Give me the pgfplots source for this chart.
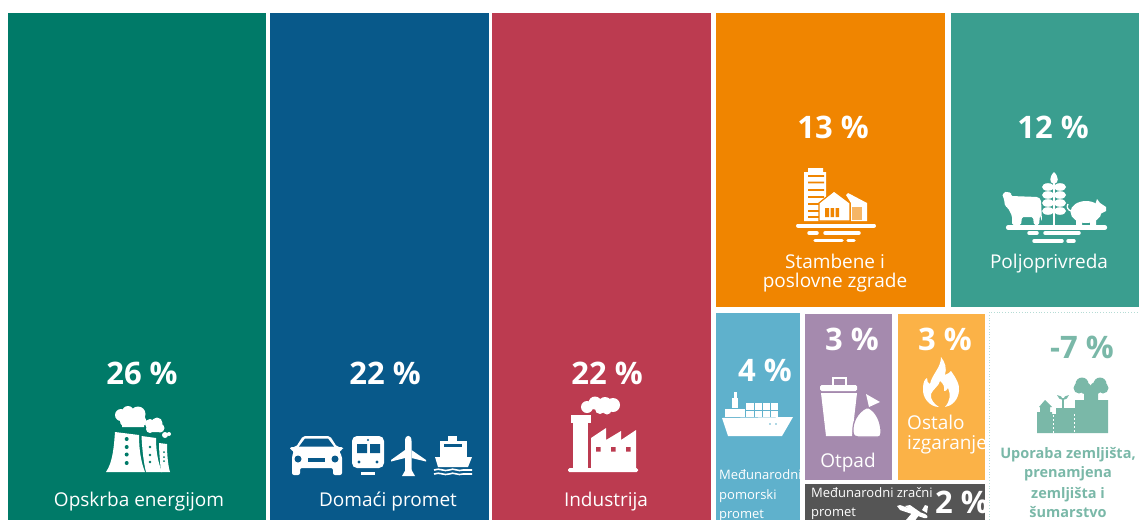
\documentclass[border=0pt]{standalone}
\usepackage{pgfplots}
\usepackage{fontspec}
\setmainfont{Open Sans}
\pgfplotsset{compat=1.18}
\definecolor{cgreen}{HTML}{007A68}
\definecolor{cblue}{HTML}{08598A}
\definecolor{cred}{HTML}{BC3B50}
\definecolor{corange}{HTML}{F08500}
\definecolor{cteal}{HTML}{3A9E8F}
\definecolor{clblue}{HTML}{5FB1CC}
\definecolor{cpurple}{HTML}{A58AAE}
\definecolor{cyellow}{HTML}{FBB247}
\definecolor{cgrey}{HTML}{555555}
\definecolor{cland}{HTML}{7AB8A8}
\definecolor{cdot}{HTML}{B5DCD5}
\newcommand\pct{\fontsize{31}{33}\selectfont\bfseries}
\newcommand\lab{\fontsize{19}{21}\selectfont}
\newcommand\sml{\fontsize{13}{15}\selectfont}
\newcommand\lnd{\fontsize{14.5}{16}\selectfont\bfseries}
\newcommand\dsh[4]{\draw[white,line width=#4pt,line cap=round] (#1,#3)--(#2,#3);}
\begin{document}
\begin{tikzpicture}
\useasboundingbox (0,0) rectangle (1139pt,520pt);
\begin{axis}[
  scale only axis, width=1139pt, height=520pt,
  xmin=0, xmax=1139, ymin=0, ymax=520, y dir=reverse,
  hide axis, no markers, clip=false,
]
% cells of the treemap (area follows the share)
\addplot[fill=cgreen,draw=none] coordinates {(8,13)(266,13)(266,520)(8,520)};
\addplot[fill=cblue,draw=none] coordinates {(270,13)(489,13)(489,520)(270,520)};
\addplot[fill=cred,draw=none] coordinates {(492,13)(711,13)(711,520)(492,520)};
\addplot[fill=corange,draw=none] coordinates {(716,13)(945,13)(945,307)(716,307)};
\addplot[fill=cteal,draw=none] coordinates {(951,13)(1139,13)(1139,307)(951,307)};
\addplot[fill=clblue,draw=none] coordinates {(716,313)(800,313)(800,520)(716,520)};
\addplot[fill=cpurple,draw=none] coordinates {(805,314)(892,314)(892,480)(805,480)};
\addplot[fill=cyellow,draw=none] coordinates {(898,314)(985,314)(985,480)(898,480)};
\addplot[fill=cgrey,draw=none] coordinates {(805,484)(985,484)(985,520)(805,520)};
\addplot[draw=cdot,dotted,line width=0.8pt] coordinates {(989,520)(989,312)(1139,312)};

% text
\begin{scope}[every node/.style={inner sep=0pt, anchor=base, text=white}]
\node[font=\pct] at (142,384) {26 \%};
\node[font=\lab] at (139,506) {Opskrba energijom};
\node[font=\pct] at (385,384) {22 \%};
\node[font=\lab] at (388,506) {Domaći promet};
\node[font=\pct] at (607,384) {22 \%};
\node[font=\lab] at (606,506) {Industrija};
\node[font=\pct] at (833,138) {13 \%};
\node[font=\lab] at (835,268) {Stambene i};
\node[font=\lab] at (835,287.5) {poslovne zgrade};
\node[font=\pct] at (1053,138) {12 \%};
\node[font=\lab] at (1049,268) {Poljoprivreda};
\node[font=\pct] at (765,381) {4 \%};
\node[font=\sml,anchor=base west] at (719,479) {Međunarodni};
\node[font=\sml,anchor=base west] at (719,499) {pomorski};
\node[font=\sml,anchor=base west] at (719,518) {promet};
\node[font=\pct] at (852,350) {3 \%};
\node[font=\lab] at (848,467) {Otpad};
\node[font=\pct] at (945,350) {3 \%};
\node[font=\lab,anchor=base west] at (907,429) {Ostalo};
\node[font=\lab,anchor=base west] at (907,449) {izgaranje};
\node[font=\pct,text=cland] at (1082,358) {-7 \%};
\node[font=\lnd,text=cland] at (1068,458) {Uporaba zemljišta,};
\node[font=\lnd,text=cland] at (1068,477) {prenamjena};
\node[font=\lnd,text=cland] at (1068,498) {zemljišta i};
\node[font=\lnd,text=cland] at (1068,517) {šumarstvo};
\node[font=\sml,anchor=base west] at (811,497) {Međunarodni zračni};
\node[font=\sml,anchor=base west] at (811,516) {promet};
\begin{scope}
\clip (805,484) rectangle (985,520);
\node[font=\pct,anchor=base west] at (935,513) {2 \%};
\end{scope}
\end{scope}

% icon: power plant
\fill[white] (121,415) circle[radius=6pt] (128,412) circle[radius=6pt] (138,414) circle[radius=7.5pt] (126,421) circle[radius=6pt] (141,421) circle[radius=5.5pt] (122,412) rectangle (144,427);
\fill[white] (150,424) circle[radius=5pt] (157,423) circle[radius=5.5pt] (150,429) circle[radius=4pt] (160,428) circle[radius=4.5pt] (149,424) rectangle (162,432);
\fill[white] (165,435) circle[radius=3pt] (169,434) circle[radius=2pt];
\fill[white] (106,472) .. controls (113,462) and (114,445) .. (115,432) -- (139,435) .. controls (139,450) and (141,462) .. (145,472) -- cycle;
\fill[white] (146,472) .. controls (143,460) and (142,445) .. (141.5,436) -- (156,438) .. controls (156,452) and (158,462) .. (162,472) -- cycle;
\fill[white] (161,472) .. controls (160,462) and (159,450) .. (159,443) -- (167,444) .. controls (167,455) and (168,465) .. (170,472) -- cycle;
\fill[cgreen] (126.7,439) circle[radius=2pt] (126.7,447) circle[radius=2pt] (126.7,454.5) circle[radius=2pt] (126.7,463) circle[radius=2pt];
\fill[cgreen] (150,447) circle[radius=1.4pt] (150,455) circle[radius=1.4pt] (150,462) circle[radius=1.4pt];
\fill[cgreen] (164,452) circle[radius=1pt] (164,457) circle[radius=1pt] (164,461) circle[radius=1pt];

% icon: car
\fill[white,rounded corners=2pt] (303,436) -- (330,436) -- (337,447) -- (343,447) -- (343,450) -- (339,451) -- (342,456) -- (342,467) -- (342,475) -- (333,475) -- (333,468) -- (300,468) -- (300,475) -- (292,475) -- (292,456) -- (294,451) -- (290,450) -- (290,447) -- (296,447) -- cycle;
\fill[cblue] (305,438.5) -- (328,438.5) -- (334,446.5) -- (299,446.5) -- cycle;
\fill[cblue] (298,459) circle[radius=3.5pt] (335,459) circle[radius=3.5pt];
\fill[cblue] (308,458) rectangle (325,461.5);
% icon: train
\fill[white,rounded corners=5pt] (352,436) rectangle (384,468);
\fill[white] (361,472) rectangle (375,475);
\fill[cblue] (357,444) rectangle (367,453) (370,444) rectangle (380,453);
\fill[cblue] (359,462) circle[radius=1.6pt] (377,462) circle[radius=1.6pt] (368,440) circle[radius=1.2pt];
% icon: aeroplane
\fill[white] (405,472) -- (405,441) .. controls (405,434) and (411.5,434) .. (411.5,441) -- (411.5,472) .. controls (411.5,475) and (405,475) .. (405,472) -- cycle;
\fill[white] (405,450) -- (391,460) -- (391,461.5) -- (405,458) -- cycle;
\fill[white] (411.5,450) -- (426,460) -- (426,461.5) -- (411.5,458) -- cycle;
\fill[white] (402,476) -- (406,469) -- (411,469) -- (415,476) -- cycle;
% icon: ferry
\fill[white] (448,436) rectangle (457,441);
\fill[white] (440,441) rectangle (467,458);
\fill[cblue] (444,443.5) rectangle (462,447);
\fill[white] (435,457) -- (472,457) -- (468,467) -- (438,467) -- cycle;
\draw[white,line width=1.6pt] (434,470) .. controls (440,467.5) and (444,472) .. (449,470) .. controls (454,467.5) and (458,472) .. (463,470) -- (472,470);
\draw[white,line width=1.6pt] (434,474) .. controls (440,471.5) and (444,476) .. (449,474) .. controls (454,471.5) and (458,476) .. (463,474) -- (472,474);

% icon: factory
\fill[white] (587,407) circle[radius=6pt] (595,403) circle[radius=6.5pt] (605,404) circle[radius=7pt] (613,405) circle[radius=7pt] (600,409) circle[radius=5pt] (607,410) circle[radius=4.5pt];
\fill[white] (571,415) rectangle (591,423);
\fill[white] (573,423) rectangle (588,468);
\fill[white,rounded corners=1.5pt] (568,468) rectangle (638,472);
\fill[white] (591,468) -- (591,438) -- (606,428) -- (606,440) -- (621,431) -- (621,440) -- (636,430) -- (636,468) -- cycle;
\fill[cred] (596,447) rectangle (600.5,451.5) (611,447) rectangle (615.5,451.5) (626,447) rectangle (630.5,451.5);

% icon: buildings
\fill[white] (804,172) -- (808,172) -- (808,168) -- (823,168) -- (823,172) -- (826,172) -- (826,221) -- (804,221) -- cycle;
\fill[corange] (808,175) rectangle (824,176.8) (808,181.5) rectangle (824,183.3) (808,189) rectangle (824,190.8) (808,196) rectangle (824,197.8) (808,203) rectangle (824,204.8) (808,210) rectangle (824,211.8) (808,216) rectangle (824,217.8);
\fill[white,draw=corange,line width=1.2pt] (819,221) -- (819,203) -- (834,191) -- (850,203) -- (850,221) -- cycle;
\fill[corange] (825,208) rectangle (829,217) (830.5,208) rectangle (834,217) (835.5,208) rectangle (839,217);
\fill[white] (851,221) -- (851,203) -- (846,195) -- (848,193) -- (867,203) -- (867,221) -- cycle;
\fill[corange!60!white] (852,207) rectangle (862,220);
\dsh{798}{874}{225.5}{4}
\dsh{809}{817}{233}{3.5}
\dsh{825}{859}{233}{3.5}
\dsh{815}{842}{240.5}{3.5}
\dsh{848}{854}{240.5}{3.5}

% icon: farm animals and wheat
\fill[white] (1054,172) .. controls (1049,177) and (1049,183) .. (1054,184) .. controls (1059,183) and (1059,177) .. (1054,172) -- cycle;
\draw[white,line width=1.8pt] (1054,180) -- (1054,225);
\fill[white] (1048,187) ellipse[x radius=6pt,y radius=3.8pt] (1060,187) ellipse[x radius=6pt,y radius=3.8pt]
  (1048,195) ellipse[x radius=6pt,y radius=3.8pt] (1060,195) ellipse[x radius=6pt,y radius=3.8pt]
  (1048,203) ellipse[x radius=6pt,y radius=3.8pt] (1060,203) ellipse[x radius=6pt,y radius=3.8pt]
  (1048,211) ellipse[x radius=6pt,y radius=3.8pt] (1060,211) ellipse[x radius=6pt,y radius=3.8pt];
\fill[white,rounded corners=1.5pt] (1002,194) -- (1005,193) -- (1006,191) -- (1008,193) -- (1011,192) -- (1011,196) -- (1038,197) -- (1041,200) -- (1042,222) -- (1040,215) -- (1039,225) -- (1034,225) -- (1033,217) -- (1022,217) -- (1021,225) -- (1012,225) -- (1012,216) -- (1008,208) -- (1005,206) -- (1004,199) -- cycle;
\fill[white] (1086,212) ellipse[x radius=15.5pt,y radius=11pt];
\fill[white] (1095,205) -- (1097,199) -- (1100,203) -- (1106,207) -- (1106,211) -- (1100,214) -- cycle;
\fill[white] (1076,215) rectangle (1082,225) (1090,215) rectangle (1096,225);
\draw[white,line width=1.3pt] (1071,211) .. controls (1068,210) and (1066,207) .. (1068,204);
\dsh{1008}{1105}{227.5}{4.2}
\dsh{1029}{1037}{233}{3.5}
\dsh{1045}{1079}{233}{3.5}
\dsh{1034}{1062}{241}{3.5}
\dsh{1068}{1074}{241}{3.5}

% icon: container ship
\fill[white] (722,418) -- (793,417) -- (782,436) -- (728,436) -- cycle;
\fill[white] (725,409) rectangle (745,417);
\fill[white] (732,398) rectangle (738,408);
\fill[white] (733.5,392) rectangle (736.5,398);
\fill[white] (746,403) rectangle (778,417);
\draw[clblue,line width=0.6pt] (754,403)--(754,417) (762,403)--(762,417) (770,403)--(770,417) (746,410)--(778,410);
\fill[clblue] (770,424) circle[radius=0.9pt] (776,424) circle[radius=0.9pt];

% icon: bin and bag
\draw[white,line width=2pt] (832.5,386) -- (832.5,378) -- (846,378) -- (846,386);
\fill[white,rounded corners=1.5pt] (820,385) rectangle (857,391);
\fill[white] (821,393) -- (857,393) -- (852,436) -- (826,436) -- cycle;
\fill[white,draw=cpurple,line width=1.2pt] (866,408) .. controls (858,412) and (852,422) .. (853,432) .. controls (853,436) and (856,437) .. (858,437) -- (878,437) .. controls (881,437) and (881,434) .. (881,430) .. controls (880,420) and (876,412) .. (869,408) -- cycle;
\fill[white] (866,394) -- (880,402) -- (869,407) -- cycle;

% icon: flame
\fill[white] (939,407) .. controls (930,407) and (922,398) .. (923,388) .. controls (923,382) and (925,379) .. (927,378) .. controls (927,381) and (928,384) .. (930,384) .. controls (932,374) and (941,368) .. (941,357) .. controls (945,362) and (947,368) .. (945,375) .. controls (948,374) and (950,372) .. (951,371) .. controls (956,378) and (960,385) .. (959,391) .. controls (958,400) and (952,406) .. (945,407) .. controls (950,401) and (951,395) .. (948,388) .. controls (947,390) and (945,392) .. (944,391) .. controls (945,387) and (943,383) .. (940,381) .. controls (939,386) and (933,389) .. (931,394) .. controls (930,399) and (934,404) .. (939,407) -- cycle;

% icon: land use
\fill[cland] (1037,433) -- (1037,412) -- (1040,412) -- (1040,407) -- (1039,407) -- (1045,400) -- (1052,407) -- (1050,407) -- (1050,412) -- (1052,412) -- (1052,414) -- (1056,414) -- (1056,408) -- (1075,408) -- (1075,400) -- (1108,400) -- (1108,433) -- cycle;
\fill[cland] (1079,388) circle[radius=5.5pt] (1082,384) circle[radius=6.5pt] (1085,388) circle[radius=6pt] (1096,388) circle[radius=6pt] (1100,384) circle[radius=6.5pt] (1103,388) circle[radius=5.5pt] (1084,390) rectangle (1098,401);
\draw[cland,line width=1.6pt] (1063,409) -- (1063,398);
\fill[cland] (1063,400) .. controls (1060,400) and (1058,398) .. (1057,395) .. controls (1060,395) and (1063,397) .. (1063,400) -- cycle;
\fill[cland] (1063,400) .. controls (1066,400) and (1068,398) .. (1069,395) .. controls (1066,395) and (1063,397) .. (1063,400) -- cycle;
\draw[white,line width=1pt,dash pattern=on 1.5pt off 2.5pt] (1053.5,415) -- (1053.5,433) (1074,414) -- (1074,433);

% icon: aeroplane in the grey cell
\begin{scope}
\clip (805,484) rectangle (985,520);
\fill[white] (897,506) -- (900,505) -- (925,514) .. controls (929,516) and (928,519) .. (924,518) -- (900,510) -- cycle;
\fill[white] (905,506) -- (910,505) -- (920,512) -- (913,512) -- cycle;
\fill[white] (906,520) -- (912,513) -- (919,515) -- (912,525) -- cycle;
\fill[white] (922,510) -- (925,505) -- (928,506) -- (927,513) -- cycle;
\end{scope}
\end{axis}
\end{tikzpicture}
\end{document}
